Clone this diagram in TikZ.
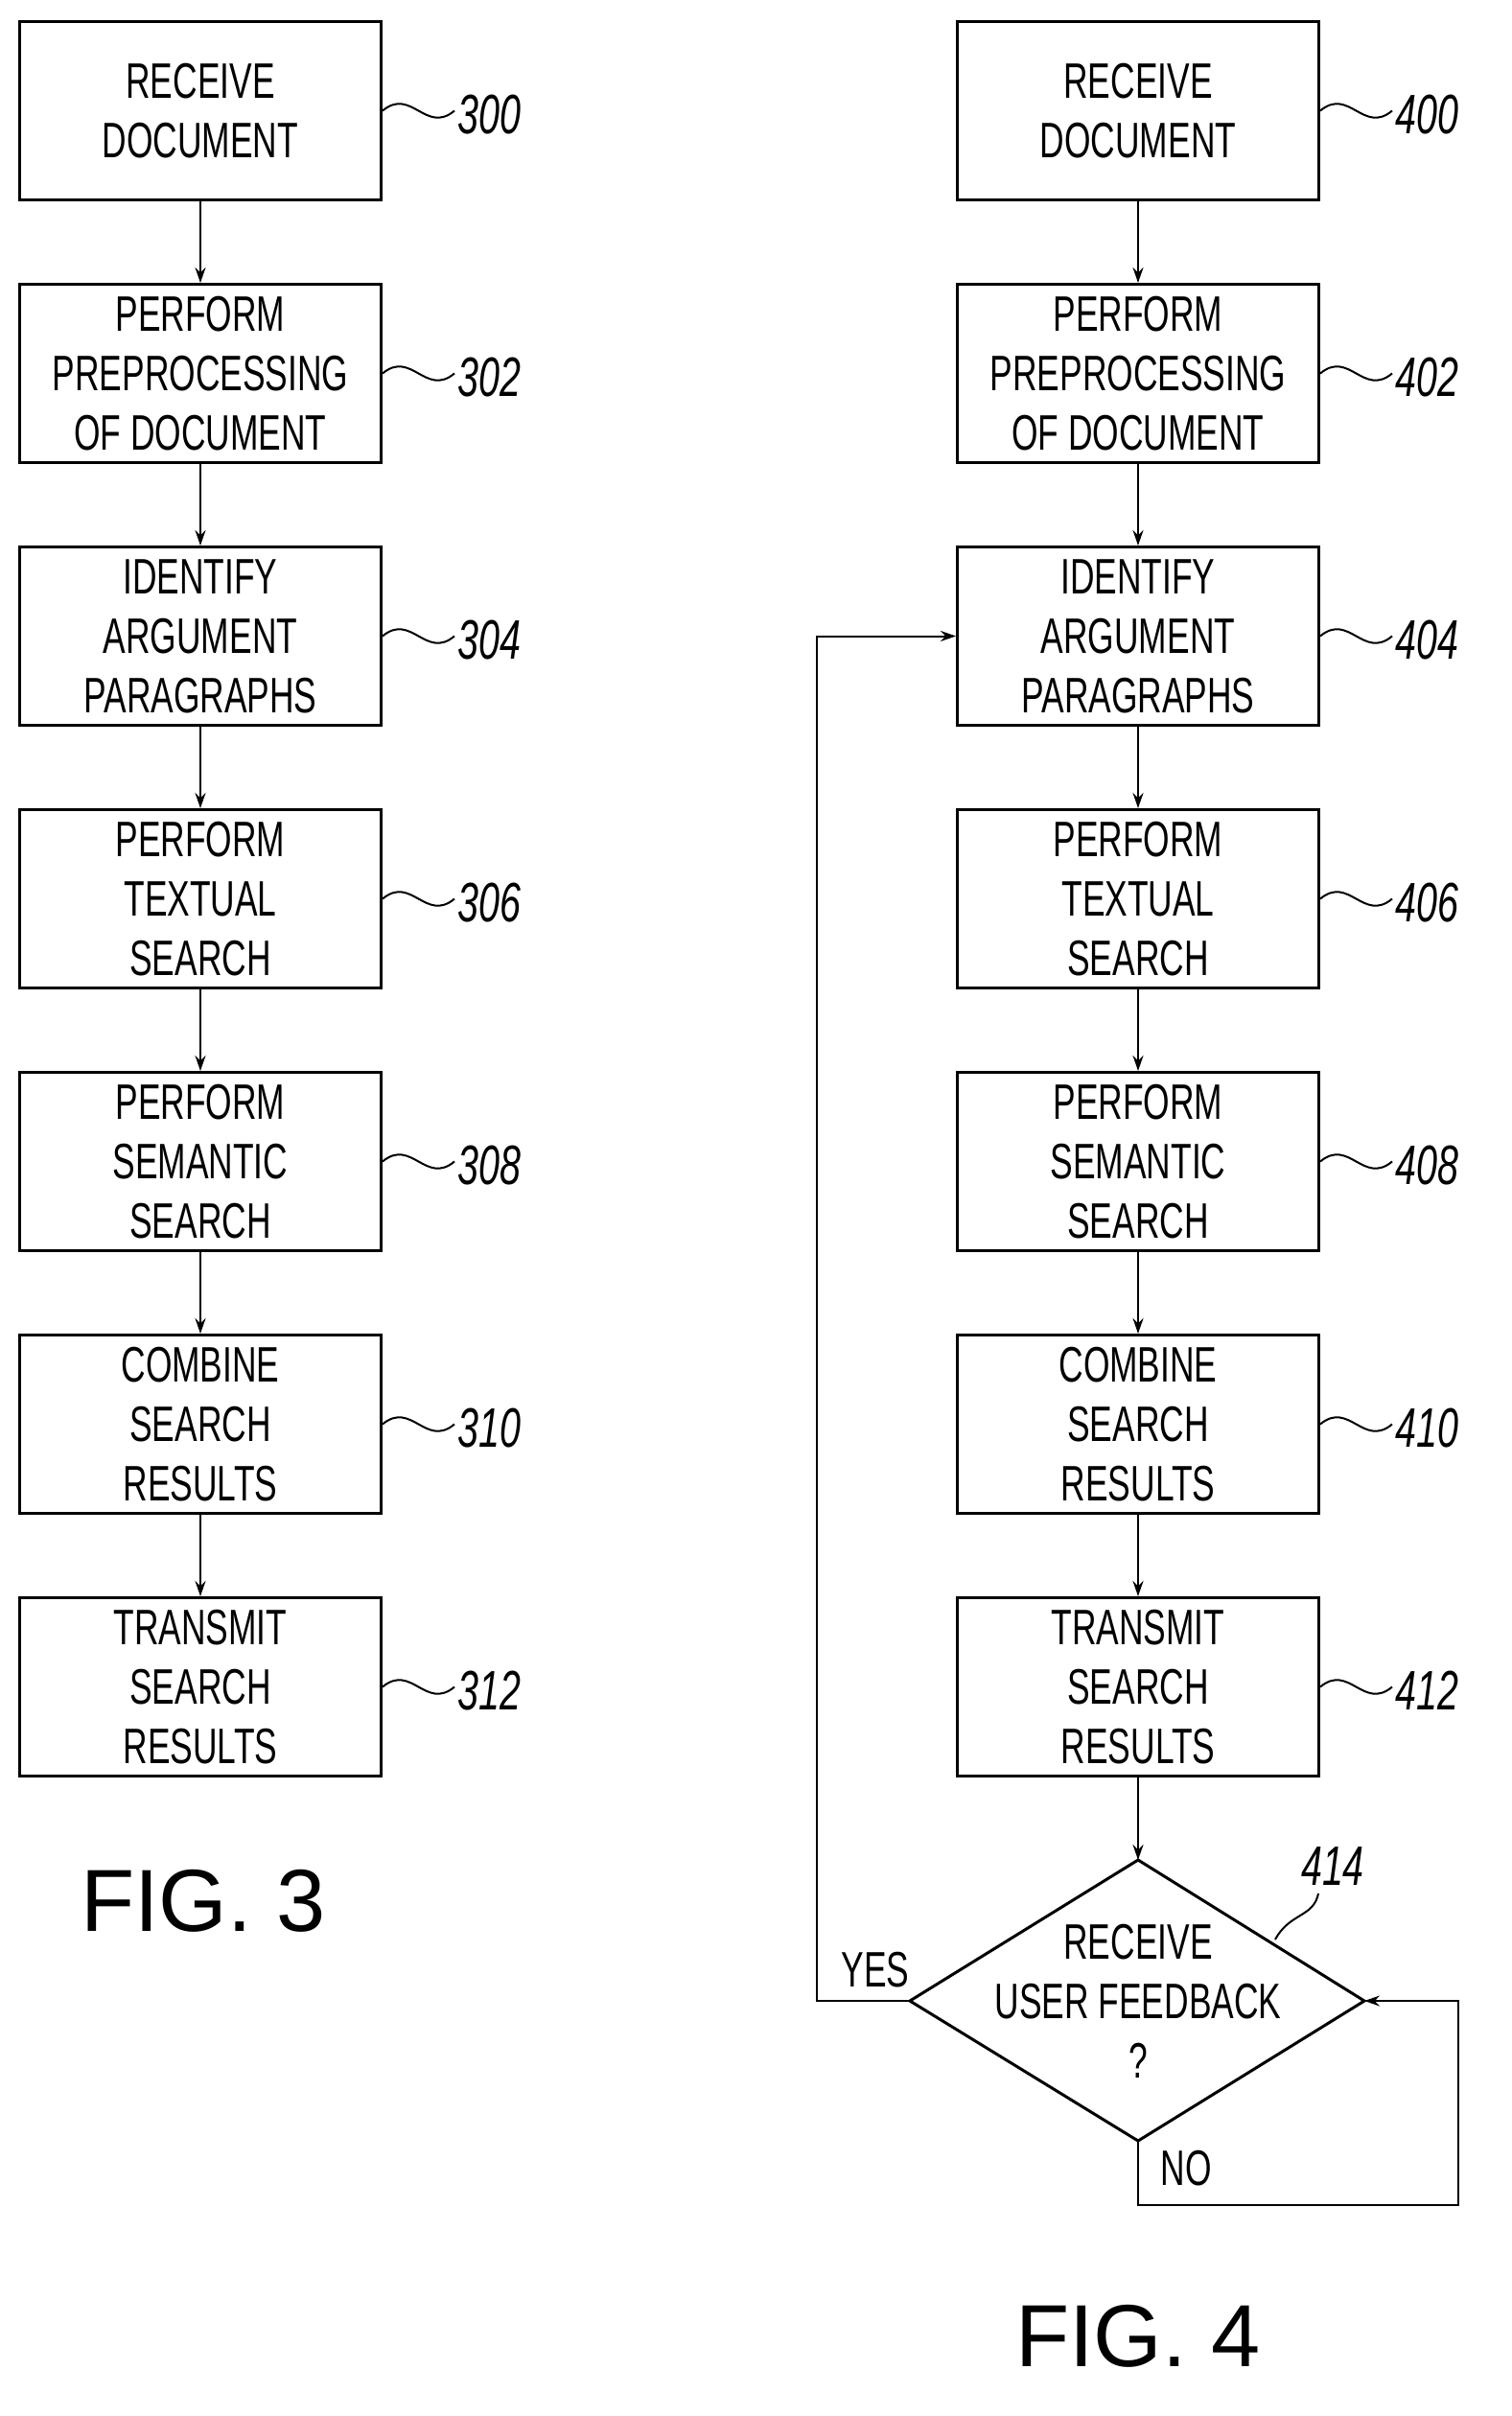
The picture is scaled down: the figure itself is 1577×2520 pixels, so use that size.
\documentclass[tikz,border=0pt]{standalone}
\usepackage{fontspec}
\setmainfont{Liberation Sans}[FakeStretch=0.68]
\newfontfamily\figfont{Liberation Sans}
\usetikzlibrary{arrows.meta,shapes.geometric}
\begin{document}
\begin{tikzpicture}[x=1pt,y=-1pt,
  box/.style={draw,line width=3pt,minimum width=377pt,minimum height=186pt,align=center,font=\fontsize{52}{62}\selectfont,inner sep=0pt},
  arr/.style={line width=2pt,-{Stealth[length=16pt,width=11pt]}},
  lbl/.style={font=\fontsize{58}{60}\selectfont\itshape,anchor=west},
  lead/.style={line width=2pt}]
\useasboundingbox (0,0) rectangle (1577,2520);
\foreach \n/\t [count=\i from 0] in {300/{RECEIVE\\DOCUMENT},302/{PERFORM\\PREPROCESSING\\OF DOCUMENT},304/{IDENTIFY\\ARGUMENT\\PARAGRAPHS},306/{PERFORM\\TEXTUAL\\SEARCH},308/{PERFORM\\SEMANTIC\\SEARCH},310/{COMBINE\\SEARCH\\RESULTS},312/{TRANSMIT\\SEARCH\\RESULTS}}{
  \pgfmathsetmacro\yy{115.5+274*\i}
  \node[box] (a\n) at (209,\yy) {\t};
  \node[box] (b\i) at (1187,\yy) {\t};
  \pgfmathtruncatemacro\m{\n+100}
  \coordinate (la\n) at ([xshift=75pt]a\n.east);
  \coordinate (lb\i) at ([xshift=75pt]b\i.east);
  \draw[lead] (a\n.east) .. controls +(30,-25) and +(-30,25) .. (la\n);
  \draw[lead] (b\i.east) .. controls +(30,-25) and +(-30,25) .. (lb\i);
  \node[lbl] at ([yshift=-4pt]la\n) {\n};
  \node[lbl] at ([yshift=-4pt]lb\i) {\m};
}
\foreach \p/\q in {300/302,302/304,304/306,306/308,308/310,310/312}
  \draw[arr] (a\p) -- (a\q);
\foreach \p/\q in {0/1,1/2,2/3,3/4,4/5,5/6}
  \draw[arr] (b\p) -- (b\q);
\node[align=center,font=\fontsize{52}{62}\selectfont] (d) at (1187,2087) {RECEIVE\\USER FEEDBACK\\?};
\coordinate (dn) at (1187,1940);
\coordinate (ds) at (1187,2233);
\coordinate (dw) at (949,2087);
\coordinate (de) at (1423,2087);
\draw[line width=3pt,line join=miter] (dn) -- (de) -- (ds) -- (dw) -- cycle;
\draw[arr] (b6) -- (dn);
\coordinate (y1) at (852,2087);
\coordinate (y2) at (852,663.5);
\draw[arr] (dw) -- (y1) -- (y2) -- (b2.west);
\coordinate (n1) at (1187,2300);
\coordinate (n2) at (1521,2300);
\coordinate (n3) at (1521,2087);
\draw[arr] (ds) -- (n1) -- (n2) -- (n3) -- (de);
\node[font=\fontsize{52}{60}\selectfont] at (913,2055) {YES};
\node[font=\fontsize{52}{60}\selectfont] at (1237,2262) {NO};
\node[font=\fontsize{58}{60}\selectfont\itshape] (l414) at (1390,1947) {414};
\draw[lead] (1330,2023) .. controls (1345,1995) and (1370,2000) .. (1375,1975);
\node[font=\figfont\fontsize{92}{100}\selectfont] at (212,1983) {FIG. 3};
\node[font=\figfont\fontsize{92}{100}\selectfont] at (1187,2437) {FIG. 4};
\end{tikzpicture}
\end{document}
